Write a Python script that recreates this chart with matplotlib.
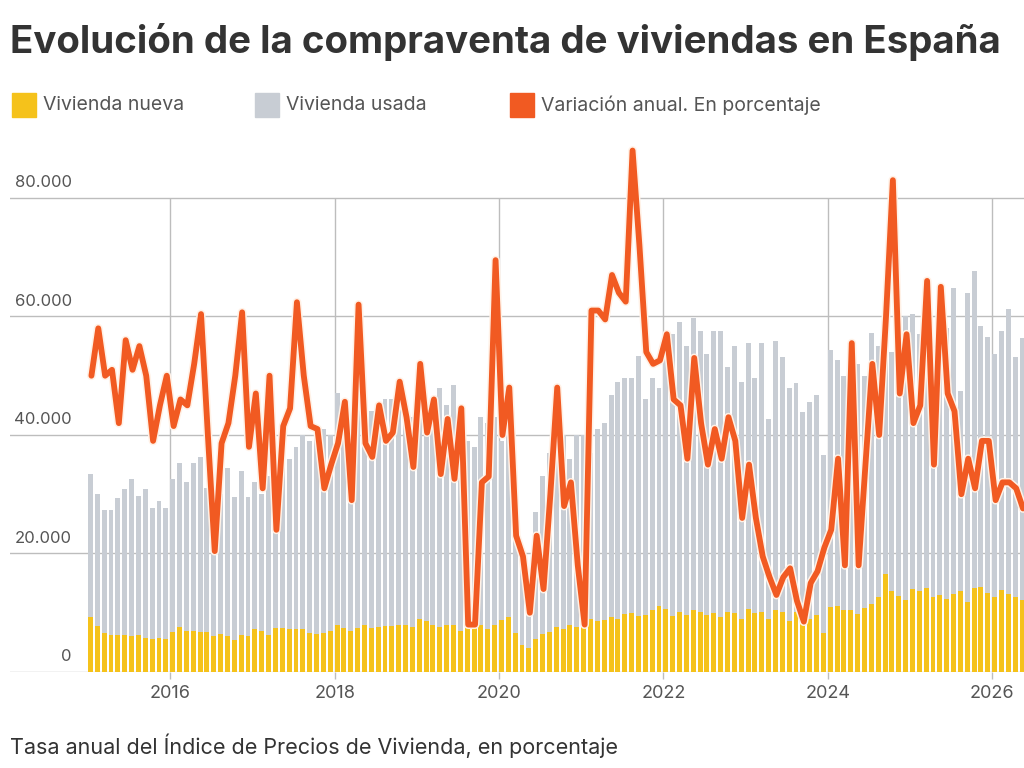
import matplotlib
matplotlib.use("Agg")
import matplotlib.pyplot as plt
import matplotlib.patheffects as pe
from matplotlib.patches import Rectangle
from matplotlib.transforms import blended_transform_factory

plt.rcParams['font.family'] = ['Inter', 'DejaVu Sans']

# compraventas mensuales (miles), desde enero 2015
nueva = [
    9.2, 7.8, 6.5, 6.3, 6.3, 6.3, 6.0, 6.2, 5.8, 5.6, 5.8, 5.5,      # 2015
    6.8, 7.6, 7.0, 7.0, 6.8, 6.8, 6.0, 6.4, 6.0, 5.4, 6.2, 6.0,      # 2016
    7.2, 7.0, 6.2, 7.4, 7.4, 7.2, 7.2, 7.2, 6.6, 6.4, 6.6, 7.0,      # 2017
    8.0, 7.4, 7.0, 7.4, 8.0, 7.4, 7.6, 7.8, 7.8, 8.0, 8.0, 7.6,      # 2018
    9.0, 8.6, 8.0, 7.6, 8.0, 8.0, 7.0, 8.4, 7.6, 8.0, 7.2, 8.0,      # 2019
    8.8, 9.2, 6.6, 4.6, 4.0, 5.6, 6.4, 6.8, 7.6, 7.2, 8.0, 7.6,      # 2020
    9.8, 9.0, 8.6, 8.8, 9.2, 9.0, 9.8, 10.0, 9.4, 9.6, 10.4, 11.2,   # 2021
    10.6, 9.4, 10.2, 9.6, 10.4, 10.2, 9.6, 10.0, 9.2, 10.2, 10.0, 9.0,  # 2022
    10.6, 10.0, 10.2, 9.0, 10.4, 10.2, 8.6, 10.2, 10.0, 9.0, 9.6, 6.6,  # 2023
    11.0, 11.2, 10.4, 10.4, 9.8, 10.8, 11.4, 12.6, 16.6, 13.6, 12.8, 12.2,  # 2024
    14.0, 13.6, 14.2, 12.6, 13.0, 12.4, 13.2, 13.6, 11.8, 14.2, 14.4, 13.4,  # 2025
    12.6, 13.8, 13.2, 12.6, 12.2,                                     # 2026
]

# altura total de la barra apilada (nueva + usada), miles
total = [
    33.4, 30.0, 27.4, 27.4, 29.4, 30.8, 32.6, 29.7, 30.8, 27.7, 28.8, 27.7,
    32.6, 35.2, 32.0, 35.2, 36.3, 31.0, 28.0, 30.0, 34.5, 29.5, 34.0, 29.5,
    32.0, 30.0, 33.0, 31.0, 35.0, 36.0, 38.0, 40.0, 39.0, 40.0, 41.0, 40.0,
    47.0, 42.0, 43.0, 44.0, 42.0, 44.0, 45.0, 46.0, 46.0, 47.0, 45.0, 43.0,
    45.0, 44.0, 46.0, 48.0, 45.0, 48.5, 44.0, 39.0, 38.0, 43.0, 42.0, 43.0,
    39.0, 43.0, 25.0, 20.0, 16.0, 27.0, 33.0, 37.0, 37.0, 40.0, 36.0, 40.0,
    40.0, 37.0, 41.0, 42.0, 46.8, 49.0, 49.7, 49.7, 53.4, 46.0, 49.7, 48.0,
    54.0, 57.0, 59.0, 55.0, 59.8, 57.5, 53.7, 57.5, 57.5, 51.4, 55.0, 49.0,
    55.5, 49.7, 55.5, 42.7, 55.8, 53.2, 48.0, 48.8, 43.9, 45.6, 46.8, 36.6,
    54.3, 52.6, 50.0, 48.0, 52.0, 50.0, 57.2, 55.0, 57.0, 54.0, 58.0, 60.0,
    60.4, 57.0, 59.0, 55.0, 60.0, 58.0, 64.8, 47.4, 63.9, 67.7, 58.4, 56.6,
    53.7, 57.5, 61.3, 53.2, 56.3,
]

# linea de variacion anual, leida sobre la misma escala del eje
variacion = [
    50, 58, 50, 51, 42, 56, 51, 55, 50, 39, 45, 50,
    41.5, 46, 45, 52, 60.4, 40, 20.4, 38.6, 42, 50, 60.7, 38,
    47, 31, 50, 24, 41.5, 44.5, 62.4, 50, 41.5, 41, 31, 35,
    38.6, 45.6, 29, 62, 38.6, 36.3, 45, 39, 40.4, 49, 43, 34.6,
    52, 40.4, 46, 33.4, 42.7, 32.6, 44.5, 8, 8, 32, 33, 69.5,
    40, 48, 23, 19.5, 10, 23, 14, 30, 48, 28, 32, 18,
    8, 61, 61, 59.5, 67, 64, 62.5, 88, 72, 54, 52, 52.6,
    57, 46, 45, 36, 53, 42, 35, 41, 36, 43, 39, 26,
    35, 26, 19.5, 16, 13, 16, 17.5, 12, 8.5, 15, 17, 21,
    24, 36, 18, 55.5, 18, 35, 52, 40, 60, 83, 47, 57,
    42, 45, 66, 35, 65, 47, 44, 30, 36, 31, 39, 39,
    29, 32, 32, 31, 27.6,
]

y_ticks = [0, 20, 40, 60, 80]
x_years = [2016, 2018, 2020, 2022, 2024, 2026]

title = "Evolución de la compraventa de viviendas en España"
legend_labels = ["Vivienda nueva", "Vivienda usada", "Variación anual. En porcentaje"]
footer = "Tasa anual del Índice de Precios de Vivienda, en porcentaje"

c_nueva = "#F5C21B"
c_usada = "#C8CDD4"
c_linea = "#F15A22"
c_grid = "#BDBDBD"

fig = plt.figure(figsize=(10.24, 7.68), dpi=100)
ax = fig.add_axes([10 / 1024, 0.125, 1014 / 1024, 0.6944])

months = range(len(nueva))
x_bar = [2015 + i / 12 for i in months]
x_line = [2015 + (i + 0.5) / 12 for i in months]

for v in y_ticks:
    ax.axhline(v, color=c_grid, lw=1, zorder=1)
ax.vlines(x_years, 0, 80, color=c_grid, lw=1, zorder=1)

ax.bar(x_bar, total, width=0.72 / 12, align='edge', color=c_usada, zorder=2)
ax.bar(x_bar, nueva, width=0.72 / 12, align='edge', color=c_nueva, zorder=3)

ax.plot(x_line, variacion, color=c_linea, lw=4.2, zorder=5,
        solid_joinstyle='round', solid_capstyle='round',
        path_effects=[pe.Stroke(linewidth=6.4, foreground='#FFF1E6'), pe.Normal()])

ax.set_xlim(2014.051, 2026.387)
ax.set_ylim(0, 90)
for s in ax.spines.values():
    s.set_visible(False)
ax.set_yticks([])
ax.set_xticks(x_years)
ax.set_xticklabels([str(y) for y in x_years])
ax.tick_params(axis='x', length=5, width=1, color=c_grid, labelsize=13,
               labelcolor='#555555', pad=4)

tr = blended_transform_factory(ax.transAxes, ax.transData)
for v in y_ticks:
    lab = f"{v * 1000:,}".replace(",", ".")
    ax.text(0.061, v + 1.3, lab, transform=tr, ha='right', va='bottom',
            fontsize=12, color='#555555')

fig.text(10 / 1024, 1 - 42 / 768, title, fontsize=27.7, fontweight='bold',
         color='#333333', va='center', ha='left')

legend_x = [12, 255, 510]
legend_cols = [c_nueva, c_usada, c_linea]
for lx, col, lab in zip(legend_x, legend_cols, legend_labels):
    fig.add_artist(Rectangle((lx / 1024, 1 - 117 / 768), 24 / 1024, 24 / 768,
                             transform=fig.transFigure, color=col))
    fig.text((lx + 31) / 1024, 1 - 105 / 768, lab, fontsize=14,
             color='#555555', va='center', ha='left')

fig.text(10 / 1024, 1 - 746 / 768, footer, fontsize=15.5, color='#333333',
         va='center', ha='left')

fig.savefig("out.png", dpi=100)
